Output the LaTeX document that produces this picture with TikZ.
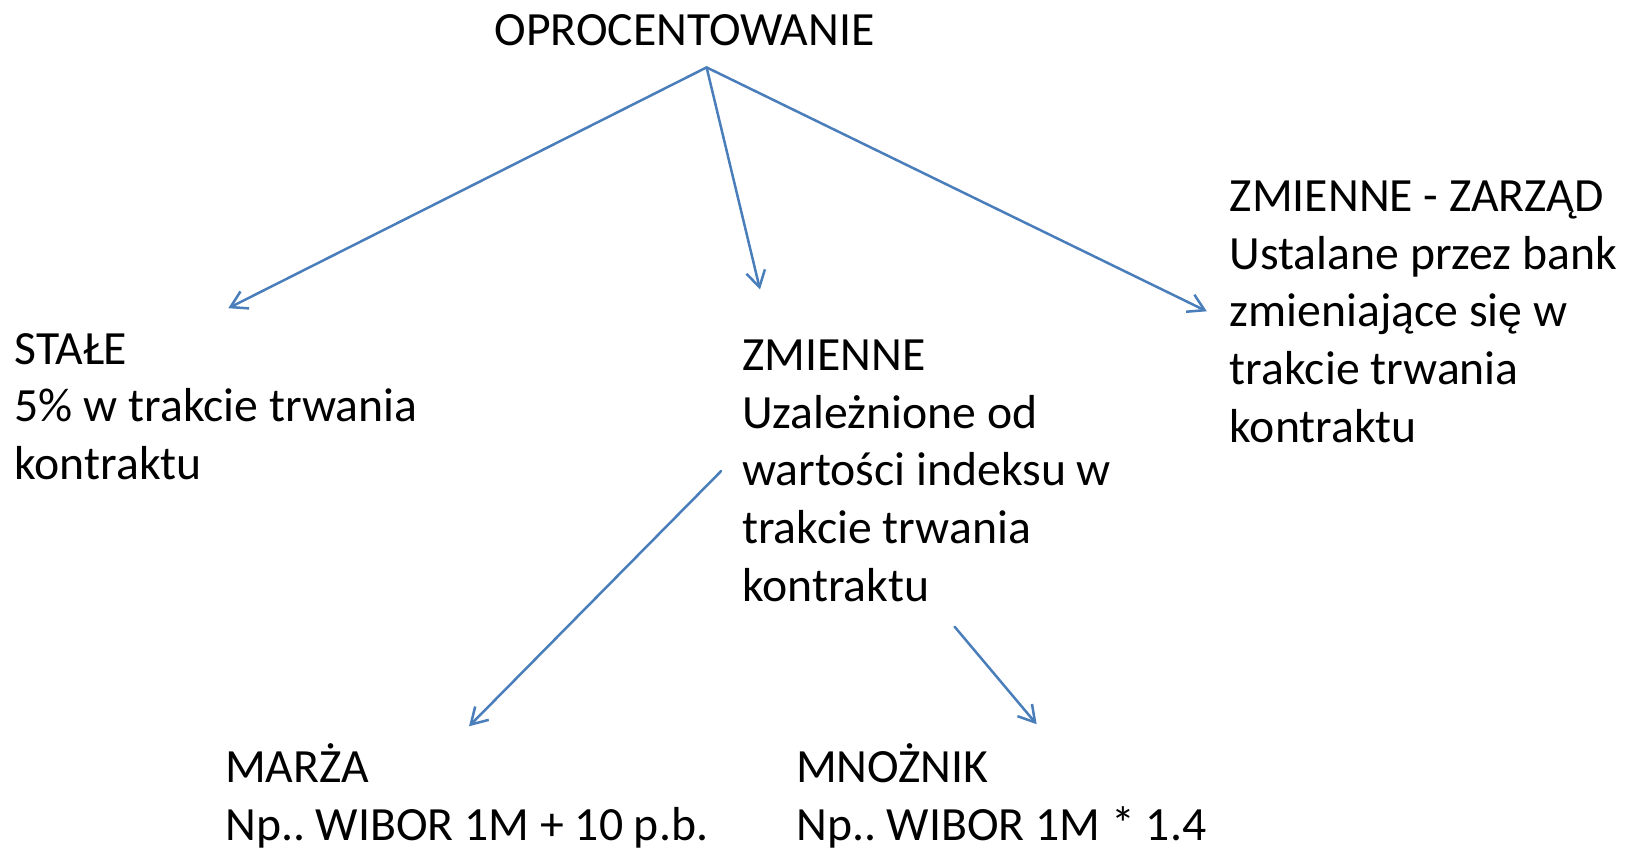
\documentclass[tikz,border=0pt]{standalone}
\usepackage{fontspec}
\setmainfont{Carlito}
\usetikzlibrary{arrows.meta}
\definecolor{linkblue}{RGB}{74,126,187}
\frenchspacing
\tikzset{
  label text/.style={font=\fontsize{47.7}{57.6}\selectfont, align=left, inner sep=0pt, anchor=base west},
  link/.style={draw=linkblue, line width=2.5pt, line cap=round,
    -{Straight Barb[length=16pt,width=19pt,line width=2.5pt]}}
}
\begin{document}
\begin{tikzpicture}[x=1pt,y=-1pt]
  \useasboundingbox (0,0) rectangle (1627,848);
  % texts (each placed by the baseline of its last line)
  \node[label text, anchor=base] (root) at (684.5,45.5) {OPROCENTOWANIE};
  \node[label text] (fixed) at (14.5,479.2) {STAŁE\\5\% w trakcie trwania\\kontraktu};
  \node[label text] (var) at (742,601.0) {ZMIENNE\\Uzależnione od\\wartości indeksu w\\trakcie trwania\\kontraktu};
  \node[label text] (board) at (1229.6,442.0) {ZMIENNE - ZARZĄD\\Ustalane przez bank\\zmieniające się w\\trakcie trwania\\kontraktu};
  \node[label text] (margin) at (225,840.1) {MARŻA\\Np.. WIBOR 1M + 10 p.b.};
  \node[label text] (mult) at (796,840.1) {MNOŻNIK\\Np.. WIBOR 1M * 1.4};
  % connector ends
  \coordinate (apex) at (706.6,67.4);
  \coordinate (fixedIn) at (228.3,308.2);
  \coordinate (varIn) at (760.0,289.5);
  \coordinate (boardIn) at (1206.8,311.3);
  \coordinate (varOutL) at (721.1,471.1);
  \coordinate (marginIn) at (469.0,726.3);
  \coordinate (varOutR) at (954.6,626.7);
  \coordinate (multIn) at (1036.6,724.2);
  % connectors
  \draw[link] (apex) -- (fixedIn);
  \draw[link] (apex) -- (varIn);
  \draw[link] (apex) -- (boardIn);
  \draw[link] (varOutL) -- (marginIn);
  \draw[link] (varOutR) -- (multIn);
\end{tikzpicture}
\end{document}
